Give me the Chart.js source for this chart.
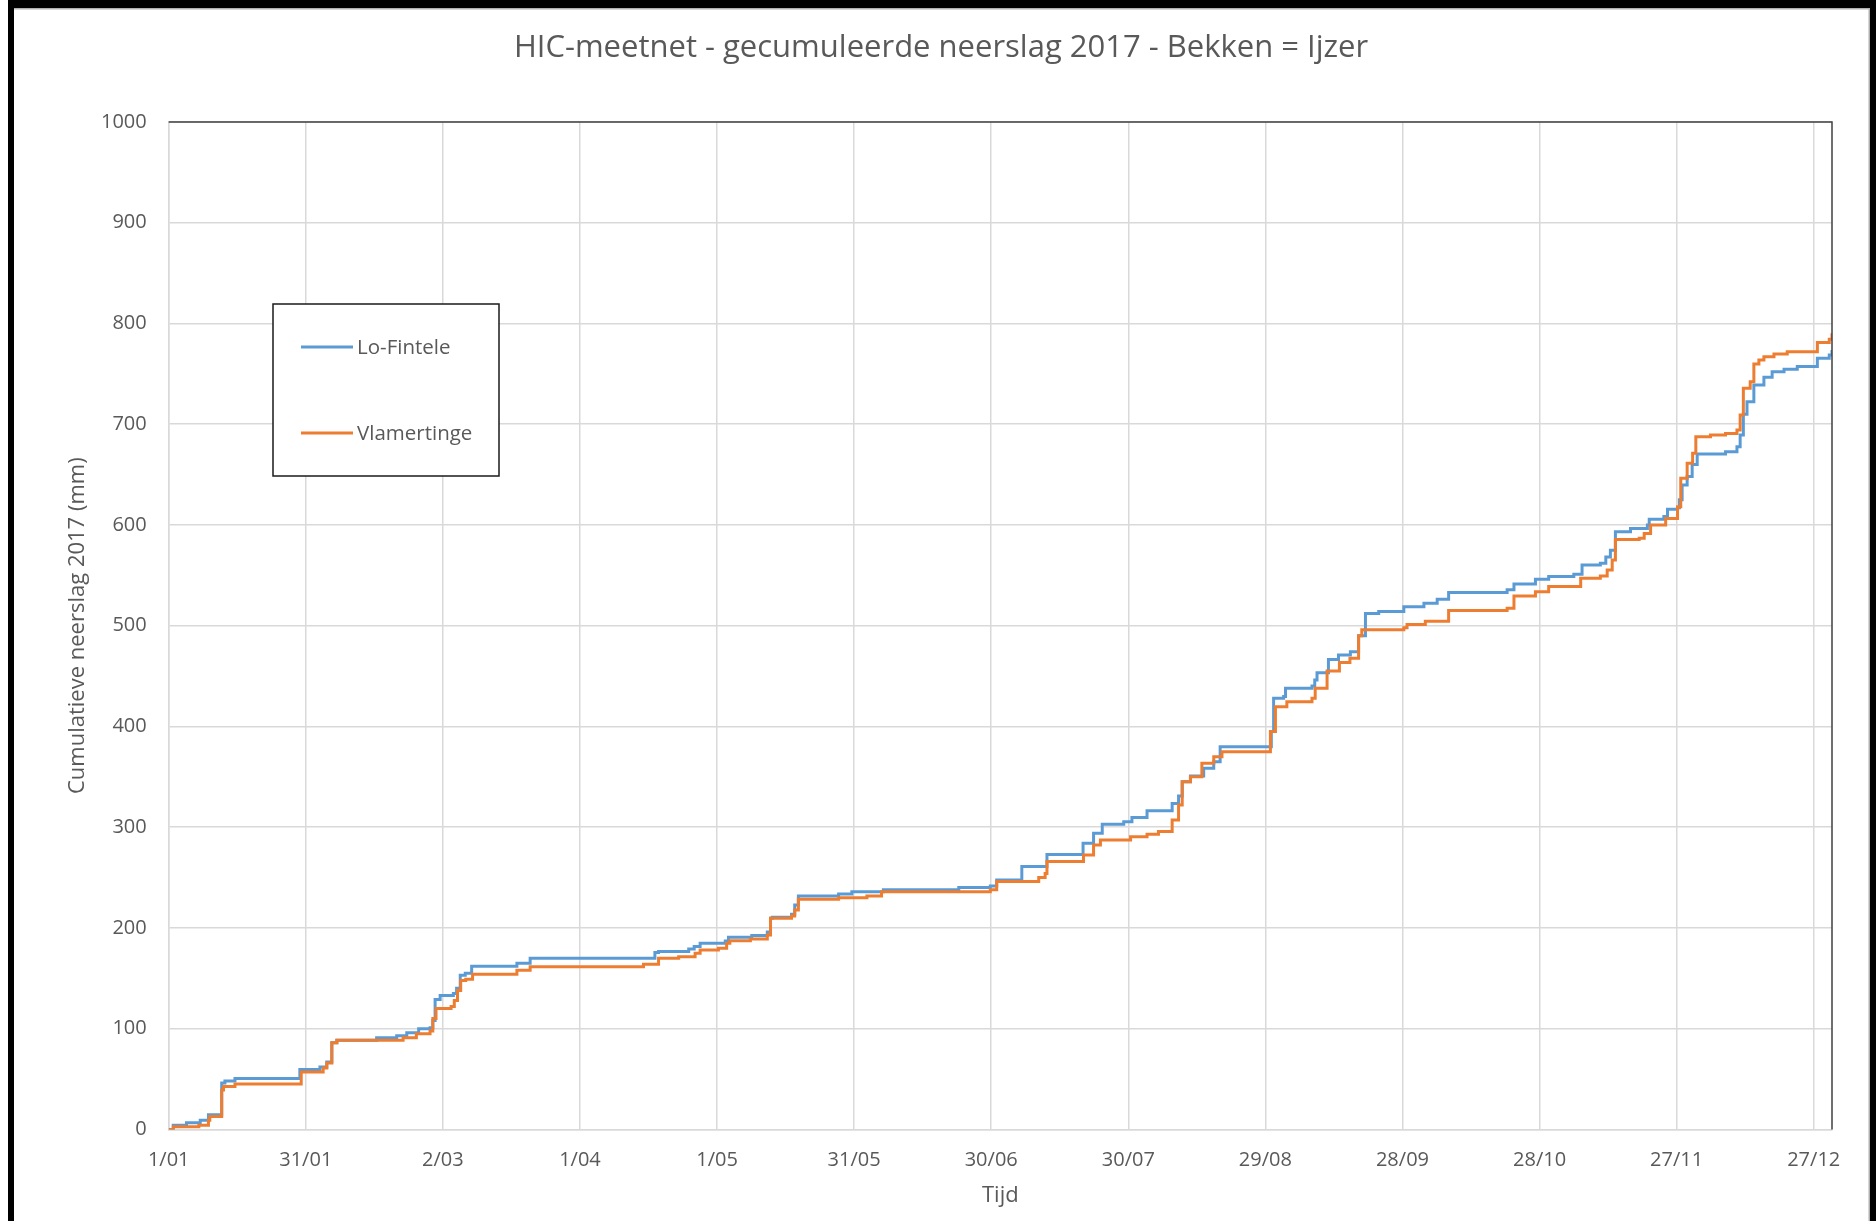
<!DOCTYPE html>
<html>
<head>
<meta charset="utf-8">
<title>HIC-meetnet - gecumuleerde neerslag 2017 - Bekken = Ijzer</title>
<script src="https://cdn.jsdelivr.net/npm/chart.js@4.4.1/dist/chart.umd.min.js"></script>
<style>
  html, body { margin: 0; padding: 0; background: #ffffff; }
  canvas { display: block; }
</style>
</head>
<body>
<canvas id="neerslag" width="1876" height="1221"></canvas>
<script>
// ---- texts ----
const chartTitle = 'HIC-meetnet - gecumuleerde neerslag 2017 - Bekken = Ijzer';
const yAxisTitle = 'Cumulatieve neerslag 2017 (mm)';
const xAxisTitle = 'Tijd';
const seriesNames = ['Lo-Fintele', 'Vlamertinge'];

// ---- cumulative rainfall: day of year (0 = 1 januari) and running total in mm ----
const loFinteleDays = [
  0, 1.0, 3.9, 6.9, 8.7, 11.6, 12.3, 14.5, 28.7, 33.1, 34.6, 35.7, 36.8, 45.5, 49.9,
  52.1, 54.7, 57.2, 57.8, 58.3, 59.4, 62.3, 63.0, 63.8, 64.9, 66.3, 76.2, 79.1, 106.4,
  107.2, 113.8, 115.0, 116.3, 121.8, 122.5, 127.6, 131.0, 131.7, 132.1, 136.3, 137.0,
  137.8, 146.6, 149.5, 156.4, 172.9, 179.8, 181.2, 186.7, 192.2, 200.1, 202.4, 204.3,
  209.0, 210.8, 214.1, 219.6, 221.0, 221.8, 223.6, 226.5, 228.7, 230.1, 241.3, 241.8,
  244.0, 244.4, 250.2, 250.8, 251.3, 253.8, 256.0, 258.6, 260.4, 261.9, 264.8, 270.3,
  274.7, 277.6, 280.1, 292.9, 294.4, 299.1, 302.0, 307.5, 309.3, 313.3, 314.5, 315.5,
  316.6, 319.9, 323.6, 324.0, 327.2, 328.0, 330.2, 330.6, 331.2, 332.3, 333.4, 334.5,
  340.7, 343.2, 343.9, 344.6, 345.4, 346.9, 349.1, 350.9, 353.5, 356.4, 360.8, 363.4, 364
];
const loFinteleMm = [
  0, 4, 6.5, 9, 14.5, 46, 48, 50.5, 59.5, 62, 67, 86, 88.5, 91, 93,
  96, 100, 101, 108, 129, 133, 135, 140, 153, 155, 162, 165, 170, 175.5,
  176.6, 179, 181.6, 184.9, 187, 190.8, 192.4, 196, 209.5, 210.6, 213.5, 222.8,
  231.8, 233.7, 235.8, 237.8, 240, 241.5, 247.6, 261, 273, 284, 294, 302.8,
  305.5, 309.7, 316.3, 323.6, 330.9, 345, 350.8, 358.4, 365, 379.8, 395, 428,
  429.6, 437.9, 440.2, 446, 453.4, 466.4, 471, 474.2, 490, 512.2, 514, 518.9,
  522.2, 526.2, 532.9, 535.6, 541.5, 546.2, 548.8, 551, 560.2, 562, 568.3, 575,
  593.3, 596.6, 600, 605.6, 608.4, 615.7, 617, 625, 639.7, 648, 660, 670.4,
  672.7, 677.7, 689.2, 710, 722.4, 739, 746.6, 752.2, 754.5, 757.2, 765.4, 768.7, 773.7
];

const vlamertingeDays = [
  0, 1.0, 6.6, 8.7, 9.0, 11.6, 12.0, 14.5, 29.0, 33.8, 34.6, 35.7, 36.8, 51.3, 54.2,
  57.2, 57.8, 58.5, 61.8, 62.5, 63.2, 63.9, 65.0, 66.5, 76.2, 79.1, 103.9, 107.2, 111.6,
  115.2, 116.3, 120.3, 122.1, 122.8, 127.3, 131.0, 131.7, 136.3, 137.0, 137.8, 146.6,
  152.8, 156.0, 179.8, 181.2, 190.4, 191.8, 192.2, 200.2, 202.4, 203.9, 210.5, 214.1,
  216.6, 219.6, 221.0, 221.8, 223.6, 226.1, 228.7, 230.5, 241.1, 242.2, 244.7, 250.2,
  250.9, 253.5, 256.2, 258.5, 260.4, 261.1, 270.3, 271.0, 275.0, 280.1, 292.9, 294.4,
  299.1, 302.0, 309.0, 313.3, 314.8, 315.9, 316.6, 321.8, 322.9, 324.3, 327.6, 330.2,
  330.9, 332.3, 333.5, 334.2, 337.4, 340.7, 343.2, 343.9, 344.6, 346.1, 346.9, 348.0,
  349.1, 351.3, 354.2, 360.8, 363.4, 364
];
const vlamertingeMm = [
  0, 2.6, 4, 9, 12.7, 39, 42.5, 45, 57, 61, 66, 86, 88.6, 91, 95,
  97.6, 110, 120, 122, 128, 138, 147.7, 149, 154, 158, 161.5, 164, 169.8, 171.5,
  174.8, 178, 179.7, 184.7, 187.3, 189, 193, 209.5, 211.8, 217.8, 228.5, 230,
  231.8, 236, 237.8, 246, 250, 254, 266, 272.4, 282.3, 287.3, 290.6, 292.9,
  295.6, 307.2, 322, 345, 350, 363.4, 370, 375, 395, 419.6, 424.6, 427.9,
  437.8, 455, 463.5, 467.6, 490, 496, 497.9, 501.2, 504.5, 515.1, 517.2, 529.5,
  533.8, 538.8, 547, 549.3, 555.3, 565.3, 585.6, 586.7, 591.6, 599.9, 606.5, 618.1,
  646.3, 661.2, 671.1, 687.6, 689.2, 690.9, 694.2, 709.1, 735.6, 742.2, 759.8, 763.7,
  767, 769.7, 772, 781, 784.3, 790.2
];

// ---- axis ticks ----
const xTickDays = [0, 30, 60, 90, 120, 150, 180, 210, 240, 270, 300, 330, 360];
const xTickLabels = ['1/01', '31/01', '2/03', '1/04', '1/05', '31/05', '30/06',
                     '30/07', '29/08', '28/09', '28/10', '27/11', '27/12'];
const yTickValues = [0, 100, 200, 300, 400, 500, 600, 700, 800, 900, 1000];
const yTickLabels = ['0', '100', '200', '300', '400', '500', '600', '700', '800', '900', '1000'];

// ---- styling ----
const FONT = "'Open Sans', 'Noto Sans', 'DejaVu Sans', sans-serif";
const TEXT = '#595959';
const GRID = '#d9d9d9';
const seriesColors = ['#5B9BD5', '#ED7D31'];

const toPoints = (days, mm) => days.map((d, i) => ({ x: d, y: mm[i] }));

// frame, plot border, title and boxed legend
const decorations = {
  id: 'decorations',
  beforeDraw(chart) {
    const { ctx, width, height } = chart;
    ctx.save();
    ctx.fillStyle = '#ffffff';
    ctx.fillRect(0, 0, width, height);
    ctx.restore();
  },
  afterDatasetsDraw(chart) {
    const { ctx, chartArea: a } = chart;
    ctx.save();
    // dark border along the top and right of the plot area
    ctx.strokeStyle = '#404040';
    ctx.lineWidth = 1.5;
    ctx.beginPath();
    ctx.moveTo(a.left, a.top);
    ctx.lineTo(a.right, a.top);
    ctx.lineTo(a.right, a.bottom);
    ctx.stroke();
    ctx.restore();
  },
  afterDraw(chart) {
    const { ctx, width, height } = chart;
    ctx.save();

    // title
    ctx.fillStyle = TEXT;
    ctx.font = "31px " + FONT;
    ctx.textAlign = 'center';
    ctx.textBaseline = 'middle';
    ctx.fillText(chartTitle, 941, 48);

    // legend box
    const box = { x: 273, y: 304, w: 226, h: 172 };
    ctx.fillStyle = '#ffffff';
    ctx.fillRect(box.x, box.y, box.w, box.h);
    ctx.strokeStyle = '#1a1a1a';
    ctx.lineWidth = 1.5;
    ctx.strokeRect(box.x, box.y, box.w, box.h);
    const rows = [347, 433];
    ctx.font = "20.5px " + FONT;
    ctx.textAlign = 'left';
    chart.data.datasets.forEach((ds, i) => {
      const y = rows[i];
      ctx.strokeStyle = ds.borderColor;
      ctx.lineWidth = 3;
      ctx.beginPath();
      ctx.moveTo(301, y);
      ctx.lineTo(353, y);
      ctx.stroke();
      ctx.fillStyle = TEXT;
      ctx.fillText(ds.label, 357, y + 1);
    });

    // outer black frame
    ctx.fillStyle = '#000000';
    ctx.fillRect(8, 0, width - 8, 8);
    ctx.fillRect(8, 0, 6, height);
    ctx.fillRect(width - 6, 0, 6, height);
    ctx.fillStyle = '#b0b0b0';
    ctx.fillRect(14, 8, width - 20, 1.5);
    ctx.fillRect(width - 7.5, 8, 1.5, height - 8);
    ctx.restore();
  }
};

new Chart(document.getElementById('neerslag'), {
  type: 'line',
  data: {
    datasets: [
      {
        label: seriesNames[0],
        data: toPoints(loFinteleDays, loFinteleMm),
        borderColor: seriesColors[0],
        backgroundColor: seriesColors[0],
        stepped: 'before',
        order: 2
      },
      {
        label: seriesNames[1],
        data: toPoints(vlamertingeDays, vlamertingeMm),
        borderColor: seriesColors[1],
        backgroundColor: seriesColors[1],
        stepped: 'before',
        order: 1
      }
    ]
  },
  options: {
    responsive: false,
    animation: false,
    elements: {
      line: { borderWidth: 3, tension: 0, fill: false, borderJoinStyle: 'miter', borderCapStyle: 'butt' },
      point: { radius: 0, hoverRadius: 0 }
    },
    layout: { padding: { top: 122, right: 44, bottom: 0, left: 0 } },
    plugins: {
      legend: { display: false },
      title: { display: false },
      tooltip: { enabled: false }
    },
    scales: {
      x: {
        type: 'linear',
        min: 0,
        max: 364,
        afterBuildTicks: s => { s.ticks = xTickDays.map(v => ({ value: v })); },
        afterFit: s => { s.height = 91.6; },
        ticks: {
          callback: (v, i) => xTickLabels[i],
          color: TEXT,
          font: { family: FONT, size: 20 },
          padding: 19,
          maxRotation: 0,
          autoSkip: false
        },
        grid: { color: GRID, lineWidth: 1.5, drawTicks: false },
        border: { color: GRID, width: 1.5 },
        title: {
          display: true,
          text: xAxisTitle,
          color: TEXT,
          font: { family: FONT, size: 22 },
          padding: { top: 0, bottom: 11.8 }
        }
      },
      y: {
        type: 'linear',
        min: 0,
        max: 1000,
        afterBuildTicks: s => { s.ticks = yTickValues.map(v => ({ value: v })); },
        afterFit: s => { s.width = 168.7; },
        ticks: {
          callback: (v, i) => yTickLabels[i],
          color: TEXT,
          font: { family: FONT, size: 20 },
          padding: 22
        },
        grid: { color: GRID, lineWidth: 1.5, drawTicks: false },
        border: { color: GRID, width: 1.5 },
        title: {
          display: true,
          text: yAxisTitle,
          color: TEXT,
          font: { family: FONT, size: 22 },
          padding: { top: 64.8, bottom: 0 }
        }
      }
    }
  },
  plugins: [decorations]
});
</script>
</body>
</html>
